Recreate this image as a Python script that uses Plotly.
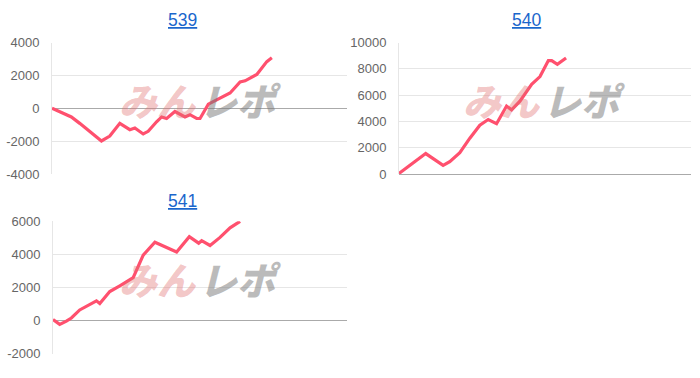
import plotly.graph_objects as go

# ---- data (games, medal difference) ----
titles = ["539", "540", "541"]

games_539 = [0, 525, 752, 1296, 1341, 1567, 1839, 2111, 2247, 2473, 2609, 2836, 2972, 3108,
             3334, 3606, 3742, 3923, 4014, 4240, 4421, 4829, 5101, 5237, 5554, 5826, 5962]
diff_539 = [0, -525, -915, -1890, -1985, -1690, -915, -1300, -1200, -1560, -1400, -820, -525, -620,
            -195, -525, -390, -620, -620, 250, 450, 930, 1600, 1670, 2060, 2840, 3070]

games_540 = [0, 339, 732, 1208, 1391, 1666, 1941, 2215, 2444, 2673, 2947, 3085, 3314, 3634,
             3863, 4092, 4183, 4339, 4458, 4577]
diff_540 = [50, 730, 1560, 660, 950, 1630, 2730, 3710, 4150, 3830, 5170, 4880, 5540, 6830,
            7410, 8630, 8630, 8340, 8590, 8830]

games_541 = [0, 182, 364, 500, 727, 909, 1182, 1273, 1545, 1818, 2182, 2455, 2773, 3364,
             3709, 3964, 4045, 4273, 4545, 4818, 5091]
diff_541 = [60, -230, -40, 155, 640, 840, 1190, 1030, 1750, 2100, 2590, 3950, 4730, 4140,
            5060, 4670, 4820, 4530, 5020, 5600, 5990]

ticks_539 = [-4000, -2000, 0, 2000, 4000]
ticks_540 = [0, 2000, 4000, 6000, 8000, 10000]
ticks_541 = [-2000, 0, 2000, 4000, 6000]
x_max = 8000

series = [(games_539, diff_539, ticks_539), (games_540, diff_540, ticks_540),
          (games_541, diff_541, ticks_541)]

# ---- layout positions (pixels) ----
W, H = 700, 378
boxes = [  # x0, x1, ytop, ybottom
    (52, 347, 37, 174),
    (399, 691, 37, 174),
    (53, 347, 223, 361),
]
title_pos = [(182, 14), (526, 14), (182, 202)]
mark_pos = [(199, 96), (543, 96), (199, 283)]

LINE = "rgb(255,80,110)"
fig = go.Figure()
layout = dict(
    width=W, height=H, margin=dict(l=0, r=0, t=0, b=0),
    paper_bgcolor="white", plot_bgcolor="white", showlegend=False,
    font=dict(family="Liberation Sans, Arial, sans-serif", size=13, color="#666"),
)
annotations = []
for i, ((gx, gy, tv), (x0, x1, yt, yb)) in enumerate(zip(series, boxes)):
    n = "" if i == 0 else str(i + 1)
    fig.add_trace(go.Scatter(x=gx, y=gy, mode="lines", line=dict(color=LINE, width=3.2),
                             xaxis="x" + n, yaxis="y" + n, hoverinfo="skip"))
    layout["xaxis" + n] = dict(domain=[x0 / W, x1 / W], range=[0, x_max], anchor="y" + n,
                               showgrid=False, zeroline=False, showticklabels=False,
                               showline=False, ticks="")
    layout["yaxis" + n] = dict(domain=[1 - yb / H, 1 - yt / H], range=[tv[0], tv[-1]],
                               anchor="x" + n, tickmode="array", tickvals=tv,
                               ticktext=[str(v) for v in tv],
                               showgrid=True, gridcolor="#e6e6e6", gridwidth=1,
                               zeroline=True, zerolinecolor="#aaaaaa", zerolinewidth=1,
                               showline=True, linecolor="#e6e6e6", linewidth=1,
                               ticks="", ticklabelstandoff=9,
                               tickfont=dict(size=13, color="#666"))
    tx, ty = title_pos[i]
    annotations.append(dict(text="<u>%s</u>" % titles[i], x=tx / W, y=1 - ty / H,
                            xref="paper", yref="paper", showarrow=False,
                            font=dict(size=17.5, color="#1a66cc"),
                            xanchor="center", yanchor="middle"))
    wx, wy = mark_pos[i]
    annotations.append(dict(text="<i>みん</i>", x=(wx - 41) / W, y=1 - wy / H,
                            xref="paper", yref="paper", showarrow=False,
                            font=dict(family="Noto Sans CJK JP", size=38, weight=900,
                                      color="rgba(225,110,110,0.4)"),
                            xanchor="center", yanchor="middle"))
    annotations.append(dict(text="<i>レポ</i>", x=(wx + 41) / W, y=1 - wy / H,
                            xref="paper", yref="paper", showarrow=False,
                            font=dict(family="Noto Sans CJK JP", size=38, weight=900,
                                      color="rgba(120,120,120,0.5)"),
                            xanchor="center", yanchor="middle"))

layout["annotations"] = annotations
fig.update_layout(**layout)
fig.write_html("out.html")
